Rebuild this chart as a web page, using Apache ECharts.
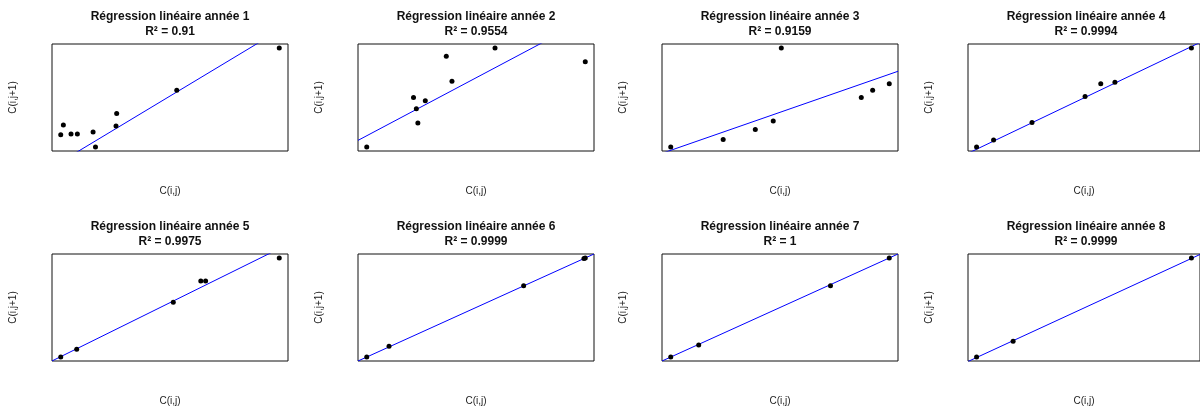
<!DOCTYPE html>
<html>
<head>
<meta charset="utf-8">
<script src="https://cdn.jsdelivr.net/npm/echarts@6/dist/echarts.min.js"></script>
<style>
  html, body { margin: 0; padding: 0; background: #fff; }
  #chart { width: 1200px; height: 410px; }
</style>
</head>
<body>
<div id="chart"></div>
<script>
// C(i,j) / C(i,j+1) par année (unités lues sur l'image, pas de graduations)
const x1 = [0, 1.2, 4.7, 7.6, 14.8, 15.9, 25.3, 25.6, 53.1, 100]
const y1 = [12.4, 22.2, 13.1, 13.1, 15.1, 0, 21.2, 33.9, 57.4, 100]
const x2 = [0, 21.4, 22.7, 23.4, 26.8, 36.4, 39.0, 58.7, 100]
const y2 = [0, 50.0, 38.6, 24.2, 46.6, 91.6, 66.4, 100, 86.2]
const x3 = [0, 24.0, 38.7, 46.9, 50.6, 87.2, 92.4, 100]
const y3 = [0, 7.7, 17.8, 26.2, 100, 50.0, 57.4, 63.8]
const x4 = [0, 7.9, 25.8, 50.5, 57.8, 64.4, 100]
const y4 = [0, 7.1, 24.8, 51.0, 63.8, 65.4, 100]
const x5 = [0, 7.3, 51.5, 64.1, 66.3, 100]
const y5 = [0, 7.8, 55.4, 76.7, 76.7, 100]
const x6 = [0, 10.2, 71.8, 99.4, 100]
const y6 = [0, 11.0, 71.9, 99.5, 100]
const x7 = [0, 12.8, 73.1, 100]
const y7 = [0, 12.2, 71.9, 100]
const x8 = [0, 17.0, 100]
const y8 = [0, 16.0, 100]

// droites de régression (ordonnée à l'origine, pente)
const intercepts = [-14.9, 11.4, -3.3, -2.2, 0.4, 0, 0, -0.5]
const slopes = [1.327, 1.169, 0.767, 1.036, 1.09, 1.0, 1.0, 1.0]
const r2 = ['0.91', '0.9554', '0.9159', '0.9994', '0.9975', '0.9999', '1', '0.9999']

const xs = [x1, x2, x3, x4, x5, x6, x7, x8]
const ys = [y1, y2, y3, y4, y5, y6, y7, y8]

const font = "'Liberation Sans', Arial, sans-serif"
const lefts = [52, 358, 662, 968]
const tops = [44, 254]
const boxW = 236
const boxH = 107

// étendue façon R : +4 % de chaque côté
function range (arr) {
  let lo = Math.min(...arr)
  let hi = Math.max(...arr)
  let p = (hi - lo) * 0.04
  return [lo - p, hi + p]
}

let grid = []
let xAxis = []
let yAxis = []
let title = []
let series = []

for (let i = 0; i < 8; i++) {
  let row = Math.floor(i / 4)
  let col = i % 4
  let xr = range(xs[i])
  let yr = range(ys[i])
  grid.push({
    left: lefts[col],
    top: tops[row],
    width: boxW,
    height: boxH,
    show: true,
    borderColor: '#111',
    borderWidth: 1,
    backgroundColor: 'transparent'
  })
  xAxis.push({
    type: 'value',
    gridIndex: i,
    min: xr[0],
    max: xr[1],
    name: 'C(i,j)',
    nameLocation: 'middle',
    nameGap: 35,
    nameTextStyle: { fontFamily: font, fontSize: 10, color: '#222' },
    axisLine: { show: false },
    axisTick: { show: false },
    axisLabel: { show: false },
    splitLine: { show: false }
  })
  yAxis.push({
    type: 'value',
    gridIndex: i,
    min: yr[0],
    max: yr[1],
    name: 'C(i,j+1)',
    nameLocation: 'middle',
    nameGap: 34,
    nameTextStyle: { fontFamily: font, fontSize: 10, color: '#222' },
    axisLine: { show: false },
    axisTick: { show: false },
    axisLabel: { show: false },
    splitLine: { show: false }
  })
  title.push({
    text: 'Régression linéaire année ' + (i + 1) + '\nR² = ' + r2[i],
    left: lefts[col] + boxW / 2,
    top: row === 0 ? 9 : 219,
    textAlign: 'center',
    padding: 0,
    textStyle: {
      fontFamily: font,
      fontSize: 12,
      fontWeight: 'bold',
      color: '#111',
      lineHeight: 15
    }
  })
  series.push({
    type: 'scatter',
    xAxisIndex: i,
    yAxisIndex: i,
    symbol: 'circle',
    symbolSize: 5,
    itemStyle: { color: '#000', opacity: 1 },
    data: xs[i].map((v, k) => [v, ys[i][k]]),
    z: 3
  })
  series.push({
    type: 'line',
    xAxisIndex: i,
    yAxisIndex: i,
    showSymbol: false,
    clip: true,
    lineStyle: { color: '#0000ff', width: 1 },
    data: xr.map(v => [v, intercepts[i] + slopes[i] * v]),
    z: 2
  })
}

let myChart = echarts.init(document.getElementById('chart'))
myChart.setOption({
  animation: false,
  backgroundColor: '#fff',
  title: title,
  grid: grid,
  xAxis: xAxis,
  yAxis: yAxis,
  series: series
})
</script>
</body>
</html>
